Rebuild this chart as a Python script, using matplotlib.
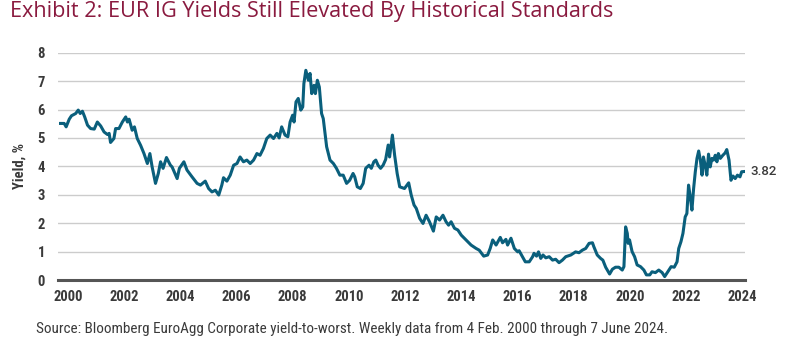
import matplotlib
matplotlib.use("Agg")
import matplotlib.pyplot as plt
import matplotlib.transforms as mtransforms
import numpy as np

# ---- data (decimal year, yield %) ----
years = [
    2000.09, 2000.22, 2000.29, 2000.40, 2000.48, 2000.63, 2000.72, 2000.79, 2000.87, 2000.95,
    2001.05, 2001.16, 2001.29, 2001.40, 2001.52, 2001.64, 2001.76, 2001.82, 2001.87, 2001.99,
    2002.05, 2002.17, 2002.29, 2002.41, 2002.47, 2002.53, 2002.64, 2002.72, 2002.82, 2002.94,
    2003.06, 2003.18, 2003.27, 2003.35, 2003.47, 2003.57, 2003.65, 2003.74, 2003.86, 2004.00,
    2004.06, 2004.24, 2004.32, 2004.48, 2004.59, 2004.77, 2004.95, 2005.07, 2005.24, 2005.36,
    2005.48, 2005.60, 2005.72, 2005.83, 2005.89, 2006.01, 2006.13, 2006.25, 2006.37, 2006.48,
    2006.60, 2006.72, 2006.84, 2006.96, 2007.08, 2007.19, 2007.31, 2007.43, 2007.55, 2007.67,
    2007.79, 2007.87, 2007.96, 2008.08, 2008.18, 2008.26, 2008.35, 2008.40, 2008.47, 2008.55,
    2008.64, 2008.71, 2008.75, 2008.82, 2008.91, 2008.97, 2009.03, 2009.11, 2009.16, 2009.23,
    2009.30, 2009.38, 2009.44, 2009.56, 2009.68, 2009.80, 2009.91, 2010.03, 2010.15, 2010.27,
    2010.38, 2010.50, 2010.56, 2010.65, 2010.76, 2010.86, 2010.95, 2011.07, 2011.15, 2011.24,
    2011.31, 2011.39, 2011.48, 2011.57, 2011.66, 2011.75, 2011.80, 2011.90, 2011.98, 2012.07,
    2012.16, 2012.33, 2012.48, 2012.57, 2012.67, 2012.75, 2012.87, 2012.99, 2013.10, 2013.22,
    2013.36, 2013.46, 2013.58, 2013.70, 2013.81, 2013.90, 2013.99, 2014.11, 2014.23, 2014.35,
    2014.52, 2014.70, 2014.88, 2014.99, 2015.15, 2015.29, 2015.38, 2015.47, 2015.59, 2015.74,
    2015.82, 2015.94, 2016.00, 2016.12, 2016.24, 2016.36, 2016.41, 2016.53, 2016.63, 2016.77,
    2016.89, 2016.94, 2017.03, 2017.10, 2017.18, 2017.26, 2017.36, 2017.48, 2017.60, 2017.71,
    2017.83, 2017.95, 2018.07, 2018.25, 2018.42, 2018.54, 2018.66, 2018.78, 2018.90, 2019.02,
    2019.07, 2019.19, 2019.31, 2019.39, 2019.49, 2019.63, 2019.73, 2019.84, 2019.96, 2020.08,
    2020.14, 2020.20, 2020.26, 2020.29, 2020.34, 2020.43, 2020.52, 2020.61, 2020.73, 2020.85,
    2020.94, 2021.06, 2021.14, 2021.26, 2021.38, 2021.50, 2021.59, 2021.70, 2021.82, 2021.93,
    2022.03, 2022.09, 2022.17, 2022.24, 2022.32, 2022.38, 2022.44, 2022.50, 2022.56, 2022.62,
    2022.68, 2022.74, 2022.80, 2022.86, 2022.92, 2022.97, 2023.03, 2023.09, 2023.15, 2023.21,
    2023.27, 2023.33, 2023.39, 2023.45, 2023.50, 2023.57, 2023.66, 2023.74, 2023.80, 2023.88,
    2023.95, 2024.02, 2024.10, 2024.18, 2024.27, 2024.33, 2024.45,
]
yields = [
    5.51, 5.51, 5.39, 5.66, 5.78, 5.86, 5.98, 5.86, 5.94, 5.74,
    5.45, 5.33, 5.31, 5.56, 5.42, 5.21, 5.12, 5.16, 4.84, 4.98,
    5.33, 5.33, 5.56, 5.74, 5.56, 5.66, 5.27, 5.39, 4.98, 4.74,
    4.45, 4.10, 4.45, 3.98, 3.40, 3.75, 4.16, 3.93, 4.31, 4.04,
    3.98, 3.57, 3.93, 4.16, 3.87, 3.63, 3.40, 3.34, 3.48, 3.22,
    3.10, 3.16, 2.99, 3.34, 3.60, 3.48, 3.69, 4.04, 4.10, 4.33,
    4.16, 4.22, 4.10, 4.22, 4.45, 4.39, 4.63, 4.98, 5.10, 4.98,
    5.16, 5.00, 5.39, 5.10, 5.04, 5.56, 5.80, 5.56, 6.27, 6.39,
    5.98, 6.09, 6.91, 7.38, 7.03, 7.27, 6.56, 6.85, 6.56, 7.03,
    6.79, 5.86, 5.68, 4.69, 4.22, 4.10, 3.93, 3.69, 3.69, 3.40,
    3.51, 3.75, 3.63, 3.28, 3.22, 3.40, 3.93, 4.04, 3.93, 4.16,
    4.22, 4.04, 3.93, 4.04, 4.24, 4.75, 4.33, 5.10, 4.39, 3.75,
    3.28, 3.22, 3.42, 2.99, 2.64, 2.52, 2.17, 1.99, 2.28, 2.05,
    1.72, 2.22, 2.11, 2.28, 2.05, 1.93, 2.05, 1.82, 1.76, 1.58,
    1.41, 1.23, 1.11, 1.05, 0.84, 0.88, 1.11, 1.41, 1.23, 1.50,
    1.31, 1.43, 1.23, 1.47, 1.11, 0.99, 1.03, 0.82, 0.64, 0.64,
    0.82, 0.94, 0.84, 0.99, 0.76, 0.88, 0.78, 0.82, 0.70, 0.73,
    0.61, 0.70, 0.82, 0.88, 0.99, 0.96, 1.05, 1.11, 1.29, 1.31,
    1.17, 0.88, 0.76, 0.70, 0.45, 0.21, 0.38, 0.45, 0.45, 0.35,
    0.47, 1.87, 1.64, 1.29, 1.41, 1.00, 0.82, 0.53, 0.47, 0.35,
    0.18, 0.18, 0.29, 0.26, 0.35, 0.26, 0.12, 0.29, 0.47, 0.45,
    0.64, 1.11, 1.35, 1.64, 2.22, 2.34, 3.34, 2.93, 2.46, 3.22,
    3.81, 4.28, 4.54, 4.22, 3.69, 4.33, 4.04, 3.69, 4.43, 3.98,
    4.28, 4.22, 4.39, 4.16, 4.45, 4.28, 4.39, 4.47, 4.59, 4.22,
    3.51, 3.66, 3.57, 3.69, 3.63, 3.81, 3.82,
]
tick_years = list(range(2000, 2025, 2))
y_ticks = [0, 1, 2, 3, 4, 5, 6, 7, 8]
last_label = "3.82"

title = "Exhibit 2: EUR IG Yields Still Elevated By Historical Standards"
source = ("Source: Bloomberg EuroAgg Corporate yield-to-worst. Weekly data from "
          "4 Feb. 2000 through 7 June 2024.")

LINE = "#0a5f7c"
TXT = "#3a3a3a"
cond = ["Roboto Condensed", "Roboto", "DejaVu Sans"]

fig = plt.figure(figsize=(8.0, 3.48), dpi=100)
ax = fig.add_axes([0.0725, 0.1954, 0.8588, 0.6532])

for v in y_ticks[1:]:
    ax.axhline(v, color="#cccccc", lw=1.0, zorder=1)
ax.axhline(0, color="#555555", lw=2.2, zorder=2, clip_on=False)

ax.plot(years, yields, color=LINE, lw=2.2, solid_joinstyle="round", zorder=3)

ax.set_xlim(years[0], years[-1])
ax.set_ylim(0, 8)
ax.set_yticks(y_ticks)
for s in ax.spines.values():
    s.set_visible(False)
ax.tick_params(axis="both", length=0)
ax.tick_params(axis="y", pad=9.5)
ax.set_yticklabels([str(v) for v in y_ticks], family=cond, fontweight="bold",
                   fontsize=10.5, color=TXT)
ax.set_xticks(tick_years)
ax.set_xticklabels([str(y) for y in tick_years], family=cond, fontweight="bold",
                   fontsize=10.5, color=TXT)
ax.tick_params(axis="x", pad=7)
off = mtransforms.ScaledTranslation(10 / 100, 0, fig.dpi_scale_trans)
for lab in ax.get_xticklabels():
    lab.set_transform(lab.get_transform() + off)
    lab.set_clip_on(False)

ax.set_ylabel("Yield, %", family=cond, fontweight="bold", fontsize=10.5,
              color=TXT)
ax.yaxis.set_label_coords(-0.046, 0.5)

ax.annotate(last_label, xy=(years[-1], yields[-1]), xytext=(4, 0),
            textcoords="offset points", va="center", ha="left",
            fontsize=9.5, color=TXT, family=["Roboto", "DejaVu Sans"],
            fontweight="medium", annotation_clip=False)

fig.text(0.0125, 0.968, title, family=["Open Sans", "DejaVu Sans"], fontsize=15.6,
         color="#8a1a3f", va="center", ha="left")
fig.text(0.045, 0.055, source, family=cond, fontsize=10.9, color=TXT,
         va="center", ha="left")

fig.savefig("out.png", dpi=100)
